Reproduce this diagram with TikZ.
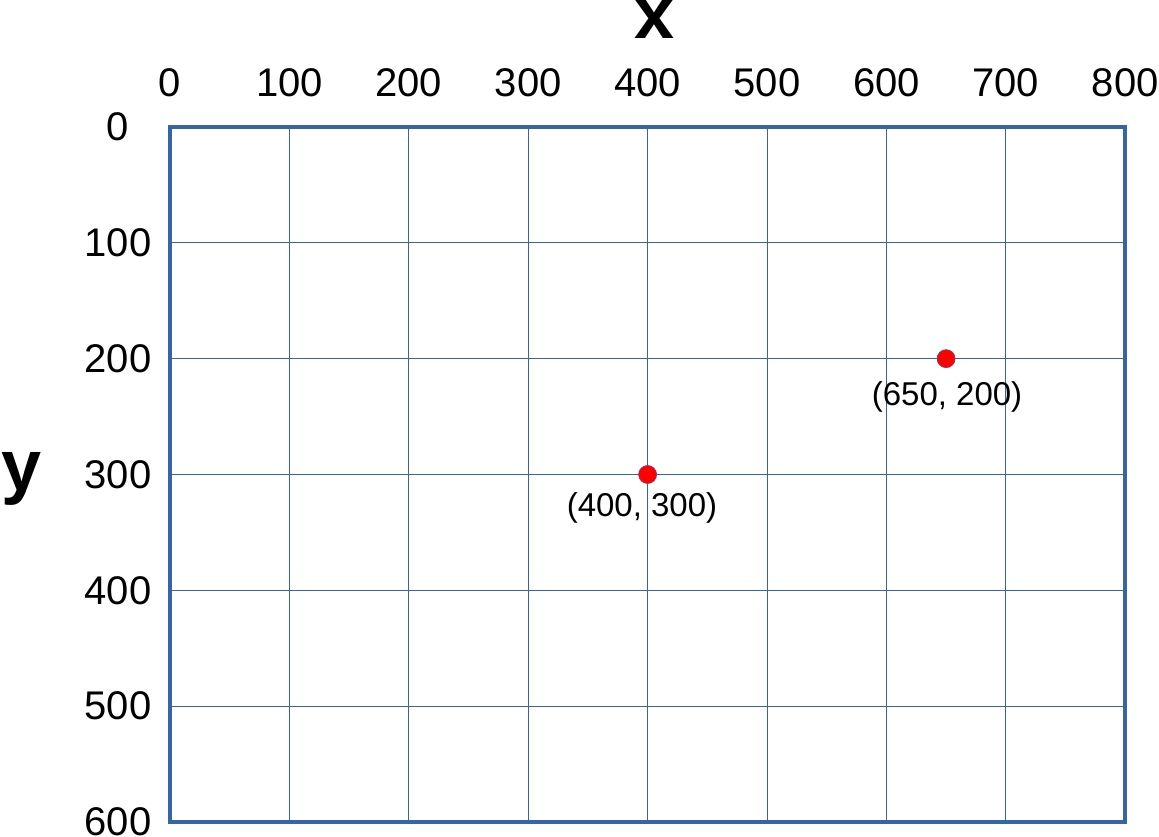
\documentclass[tikz,border=0pt]{standalone}
\usepackage{fontspec}
\setmainfont{Liberation Sans}
\usepackage{xcolor}
\usepackage{tikz}
\usetikzlibrary{positioning}

\definecolor{gridblue}{RGB}{53,101,166}

\begin{document}
\begin{tikzpicture}[
    x=119.4pt,
    y=-115.83pt,
    frame/.style={draw=gridblue, line width=3.6pt},
    gridline/.style={draw=gridblue, line width=0.9pt},
    ticklab/.style={inner sep=0pt, font=\fontsize{40}{44}\selectfont},
    axislab/.style={inner sep=0pt, font=\fontsize{72}{80}\selectfont\bfseries},
    dot/.style={circle, inner sep=0pt, minimum size=18pt, fill=red, draw=gridblue!60!red, line width=0.7pt},
    dotlab/.style={inner sep=0pt, font=\fontsize{33}{38}\selectfont}
]
\useasboundingbox (-1.4238,-1.0964) rectangle (8.2831,6.1211);

% grid and frame
\foreach \x in {1,...,7}{
  \draw[gridline] (\x,0) -- (\x,6);
}
\foreach \y in {1,...,5}{
  \draw[gridline] (0,\y) -- (8,\y);
}
\draw[frame] (0,0) rectangle (8,6);

% tick labels
\foreach \x in {0,...,8}{
  \pgfmathtruncatemacro{\val}{100*\x}
  \node[ticklab, anchor=base] (xt\x) at (\x,-0.259) {\val};
}
\foreach \y in {0,...,6}{
  \pgfmathtruncatemacro{\val}{100*\y}
  \node[ticklab] (yt\y) at (-0.4355,\y) {\val};
}

% axis names
\node[axislab, anchor=base] (xname) at (4.054,-0.768) {x};
\node[axislab, anchor=base] (yname) at (-1.2395,3.134) {y};

% points
\node[dot] (pa) at (4,3) {};
\node[dotlab] (pala) at (3.953,3.29) {(400, 300)};
\node[dot] (pb) at (6.5,2) {};
\node[dotlab] (pbla) at (6.508,2.33) {(650, 200)};
\end{tikzpicture}
\end{document}
